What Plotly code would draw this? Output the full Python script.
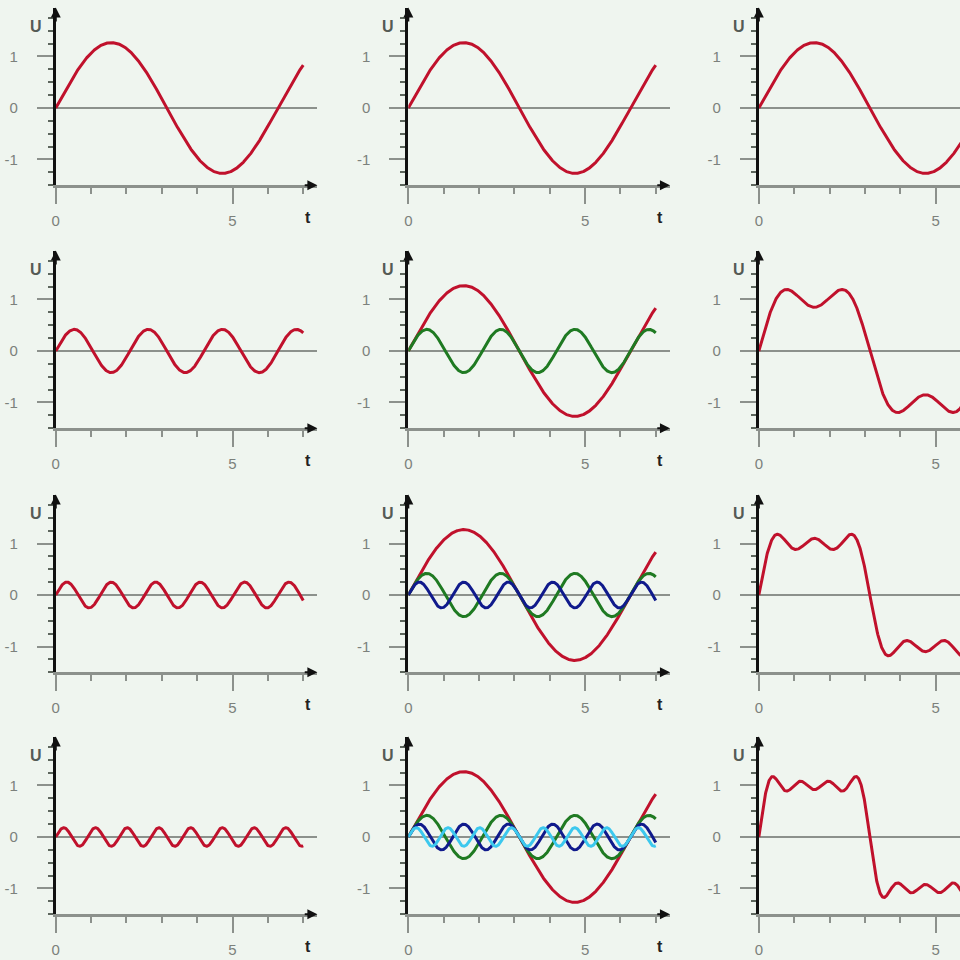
import numpy as np
import plotly.graph_objects as go

# ---- data ----
harmonic_orders = [1, 3, 5, 7]            # frequency of each harmonic
harmonic_amplitudes = [1.27, 0.42, 0.25, 0.18]  # peak heights
harmonic_colors = ["#c0112c", "#1f7a22", "#101a8c", "#3cc8ee"]
t_end = 7.0                                # curves stop near t = 7
x_tick_vals = [0, 5]
x_tick_text = ["0", "5"]
y_tick_vals = [-1, 0, 1]
y_tick_text = ["-1", "0", "1"]
axis_label_y = "U"
axis_label_x = "t"

# ---- layout geometry (pixels in a 960x960 page) ----
W = H = 960
col_x0 = [52, 406, 758]          # pixel of t = 0
row_y0 = [108, 351, 595, 837]    # pixel of U = 0
px_per_t = 35.5
px_per_u = 51.5
x_range = [0, 7.4]
y_range = [-1.5, 1.95]

BG = "#eff5ef"
GRAY = "#8c918c"
RED = harmonic_colors[0]

t = np.linspace(0, t_end, 900)
curves = [a * np.sin(n * t) for n, a in zip(harmonic_orders, harmonic_amplitudes)]

fig = go.Figure()
layout = dict(
    width=W, height=H,
    margin=dict(l=0, r=0, t=0, b=0),
    paper_bgcolor=BG, plot_bgcolor=BG,
    showlegend=False,
    font=dict(family="Liberation Sans, Arial, sans-serif"),
)
annotations = []

idx = 0
for r in range(4):
    for c in range(3):
        idx += 1
        xa = "x" if idx == 1 else f"x{idx}"
        ya = "y" if idx == 1 else f"y{idx}"
        xkey = "xaxis" if idx == 1 else f"xaxis{idx}"
        ykey = "yaxis" if idx == 1 else f"yaxis{idx}"

        # domains
        left_px = col_x0[c] + x_range[0] * px_per_t
        right_px = col_x0[c] + x_range[1] * px_per_t
        xr = list(x_range)
        if right_px > W:
            xr[1] = (W - col_x0[c]) / px_per_t
            right_px = W
        top_px = row_y0[r] - y_range[1] * px_per_u
        bot_px = row_y0[r] - y_range[0] * px_per_u
        xdom = [left_px / W, right_px / W]
        ydom = [1 - bot_px / H, 1 - top_px / H]

        # traces
        if c == 0:
            fig.add_trace(go.Scatter(x=t, y=curves[r], mode="lines",
                                     line=dict(color=RED, width=3),
                                     xaxis=xa, yaxis=ya, hoverinfo="skip"))
        elif c == 1:
            for k in range(r + 1):
                fig.add_trace(go.Scatter(x=t, y=curves[k], mode="lines",
                                         line=dict(color=harmonic_colors[k], width=3),
                                         xaxis=xa, yaxis=ya, hoverinfo="skip"))
        else:
            s = np.sum(curves[: r + 1], axis=0)
            fig.add_trace(go.Scatter(x=t, y=s, mode="lines",
                                     line=dict(color=RED, width=3),
                                     xaxis=xa, yaxis=ya, hoverinfo="skip"))

        x_minor = [v for v in range(1, 8) if v not in x_tick_vals]
        y_minor = [v for v in np.arange(-1.5, 1.76, 0.25) if abs(v - round(v)) > 1e-6]

        layout[xkey] = dict(
            domain=xdom, range=xr, anchor=ya,
            showgrid=False, zeroline=False,
            showline=True, linecolor=GRAY, linewidth=3,
            ticks="outside", tickmode="array", tickvals=x_tick_vals, ticktext=x_tick_text,
            ticklen=16, tickwidth=2, tickcolor=GRAY,
            minor=dict(tickmode="array", tickvals=x_minor, ticks="outside",
                       ticklen=6, tickwidth=2, tickcolor=GRAY),
            tickfont=dict(size=15, color="#7c817c"),
            ticklabelstandoff=4,
            fixedrange=True,
        )
        layout[ykey] = dict(
            domain=ydom, range=y_range, anchor=xa,
            showgrid=False,
            zeroline=True, zerolinecolor=GRAY, zerolinewidth=2,
            showline=True, linecolor="#111111", linewidth=3,
            ticks="outside", tickmode="array", tickvals=y_tick_vals, ticktext=y_tick_text,
            ticklen=16, tickwidth=2, tickcolor=GRAY,
            minor=dict(tickmode="array", tickvals=y_minor, ticks="outside",
                       ticklen=5, tickwidth=2, tickcolor="#5d665d"),
            tickfont=dict(size=15, color="#7c817c"),
            ticklabelstandoff=16,
            fixedrange=True,
        )

        # axis labels (paper coordinates)
        ux = (col_x0[c] - 20) / W
        uy = 1 - (row_y0[r] - 82) / H
        annotations.append(dict(text=f"<b>{axis_label_y}</b>", x=ux, y=uy, xref="paper", yref="paper",
                                xanchor="center", yanchor="middle",
                                showarrow=False, font=dict(size=16, color="#555a55")))
        tx_px = col_x0[c] + 7.13 * px_per_t
        if tx_px < W - 5:
            annotations.append(dict(text=f"<b>{axis_label_x}</b>", x=tx_px / W,
                                    y=1 - (row_y0[r] + 2.12 * px_per_u) / H,
                                    xref="paper", yref="paper",
                                    xanchor="center", yanchor="middle",
                                    showarrow=False, font=dict(size=16, color="#222222")))
        # arrowheads
        annotations.append(dict(text="", x=0, y=y_range[1], ax=0, ay=y_range[1] - 0.3,
                                xref=xa, yref=ya, axref=xa, ayref=ya,
                                showarrow=True, arrowhead=2, arrowsize=1, arrowwidth=2,
                                arrowcolor="#111111", standoff=0))
        if c < 2:
            annotations.append(dict(text="", x=x_range[1], y=y_range[0], ax=x_range[1] - 0.4,
                                    ay=y_range[0], xref=xa, yref=ya, axref=xa, ayref=ya,
                                    showarrow=True, arrowhead=2, arrowsize=1, arrowwidth=2,
                                    arrowcolor="#111111", standoff=0))

layout["annotations"] = annotations
fig.update_layout(**layout)
fig.write_html(
    "out.html",
    config={"displayModeBar": False},
    post_script="document.body.style.margin='0';document.body.style.overflow='hidden';",
)
